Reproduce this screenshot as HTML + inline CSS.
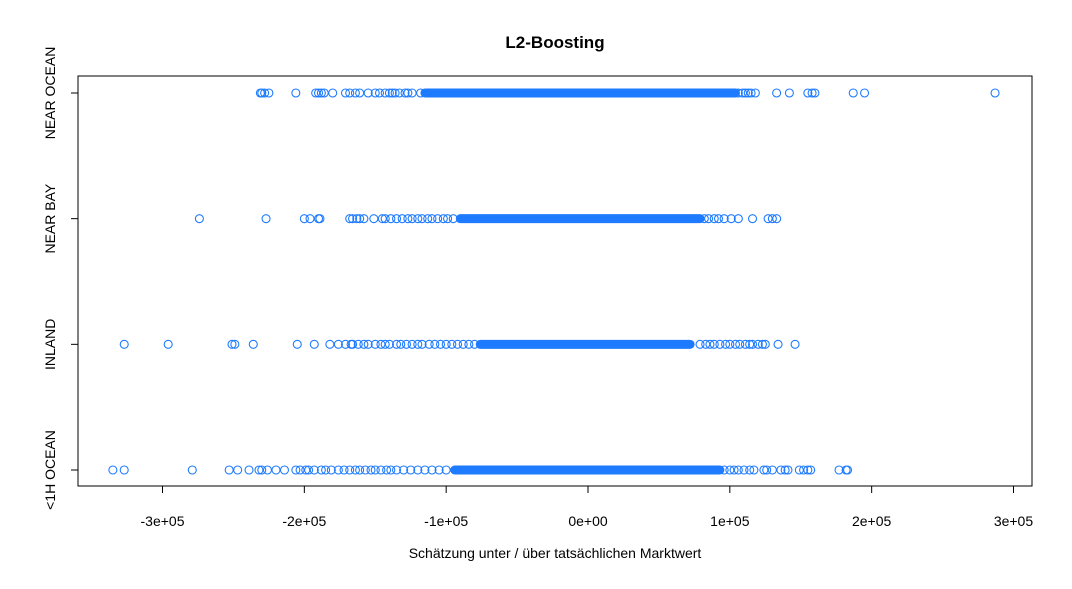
<!DOCTYPE html>
<html><head><meta charset="utf-8"><style>
html,body{margin:0;padding:0;background:#fff;}
svg text{font-family:"Liberation Sans",Arial,sans-serif;}
</style></head><body>
<svg id="chart" width="1072" height="584" viewBox="0 0 1072 584" xmlns="http://www.w3.org/2000/svg">
<text x="555" y="48" text-anchor="middle" font-size="17" font-weight="bold">L2-Boosting</text>
<rect x="78" y="76" width="954" height="410" fill="none" stroke="#000" stroke-width="1"/>
<g id="xaxis"></g>
<g id="yaxis"></g>
<g id="marks"></g>
<text x="555" y="558" text-anchor="middle" font-size="14">Schätzung unter / über tatsächlichen Marktwert</text>
</svg>
<script>
const categories = ["<1H OCEAN","INLAND","NEAR BAY","NEAR OCEAN"];
const xTicks = [-300000,-200000,-100000,0,100000,200000,300000];
const xTickLabels = ["-3e+05","-2e+05","-1e+05","0e+00","1e+05","2e+05","3e+05"];
// sparse points (thousands)
const ptsOneH = [-335,-327,-279,-253,-247,-239,-232,-230,-226,-220,-214,-206,-203,-199,-197,-193,-188,-185,-181,-176,-172,-168,-164,-161,-157,-153,-150,-146,-142,-139,-135,-130,-125,-120,-115,-110,-105,-100,96,100,103,106,110,114,117,124,126,130,136,139,141,149,152,155,157,177,182,183];
const ptsInland = [-327,-296,-251,-249,-236,-205,-193,-182,-176,-171,-167,-166,-162,-158,-155,-150,-146,-143,-140,-135,-132,-128,-124,-120,-117,-112,-108,-104,-100,-96,-92,-88,-84,-80,79,83,86,89,93,97,100,104,107,111,114,116,120,123,125,134,146];
const ptsBay = [-274,-227,-200,-196,-190,-189,-168,-166,-163,-161,-158,-151,-145,-143,-139,-135,-131,-127,-124,-120,-117,-113,-110,-106,-102,-99,-95,82,85,89,92,96,101,106,116,127,130,133];
const ptsOcean = [-231,-230,-228,-225,-206,-192,-190,-188,-186,-180,-171,-168,-164,-161,-155,-150,-147,-143,-140,-138,-136,-133,-129,-127,-124,-118,106,109,111,113,115,118,133,142,155,158,160,187,195,287];
// dense core ranges (thousands): [low, high] per category
const denseLow = [-94, -76, -90, -115];
const denseHigh = [93, 72, 79, 104];

const NS="http://www.w3.org/2000/svg";
const x = v => 588 + v * 0.0014183;
const y = i => 470 - i * 125.67;
const xAxis=document.getElementById('xaxis'), yAxis=document.getElementById('yaxis'), marks=document.getElementById('marks');
function mk(tag, attrs, parent){const e=document.createElementNS(NS,tag);for(const k in attrs)e.setAttribute(k,attrs[k]);parent.appendChild(e);return e;}
mk('line',{x1:x(xTicks[0]),x2:x(xTicks[xTicks.length-1]),y1:486,y2:486,stroke:'#000'},xAxis);
xTicks.forEach((t,i)=>{
  const l=mk('line',{x1:x(t),x2:x(t),y1:486,y2:493,stroke:'#000'},xAxis);
  
  
  const tx=mk('text',{x:x(t),y:526,'text-anchor':'middle','font-size':14},xAxis);
  tx.textContent=xTickLabels[i];
  
  
});
mk('line',{x1:78,x2:78,y1:y(0),y2:y(3),stroke:'#000'},yAxis);
categories.forEach((c,i)=>{
  const l=mk('line',{x1:71,x2:78,y1:y(i),y2:y(i),stroke:'#000'},yAxis);
  
  
  const tx=mk('text',{x:0,y:0,'text-anchor':'middle','font-size':14,transform:`translate(55,${y(i)}) rotate(-90)`},yAxis);
  tx.textContent=c;
  
  
});
const all=[ptsOneH,ptsInland,ptsBay,ptsOcean];
all.forEach((arr,i)=>{
  const band=mk('rect',{x:x(denseLow[i]*1000)-4.5,y:y(i)-4.5,width:x(denseHigh[i]*1000)-x(denseLow[i]*1000)+9,height:9,rx:4.5,fill:'#1E7BFF'},marks);
  
  
  arr.forEach(v=>{
    const c=mk('circle',{cx:x(v*1000),cy:y(i),r:4,fill:'none',stroke:'#1E7BFF','stroke-width':1.1},marks);
    
    
  });
});
</script>
</body></html>
